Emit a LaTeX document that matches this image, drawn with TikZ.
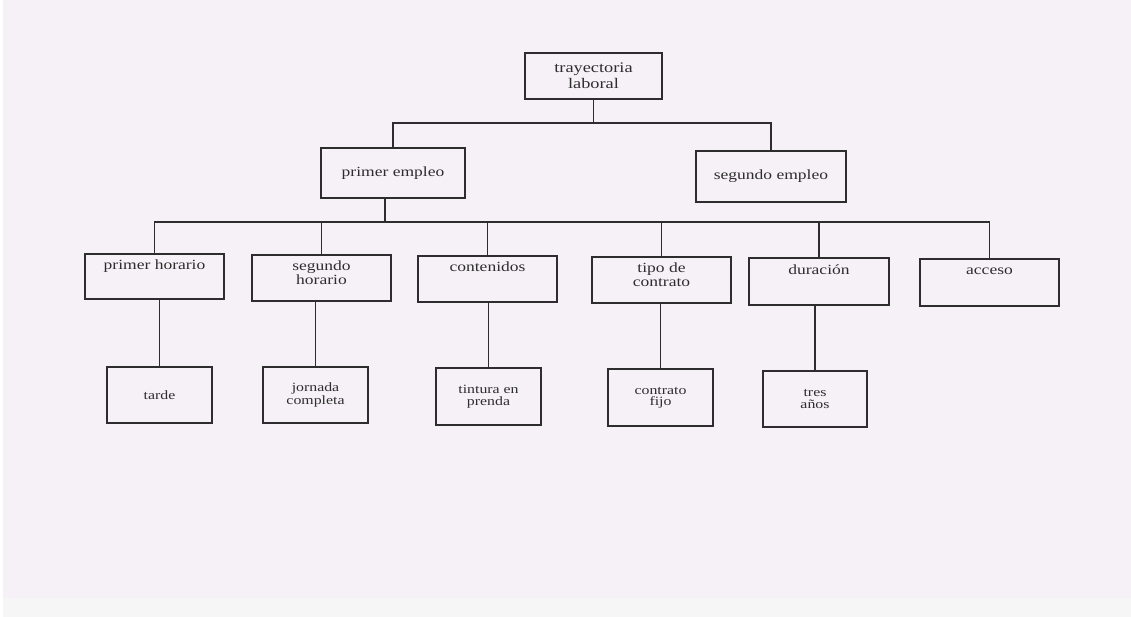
\documentclass[tikz,border=0pt]{standalone}
\usepackage{fontspec}
\setmainfont[FakeStretch=1.25]{Liberation Serif}
\usetikzlibrary{calc}
\definecolor{paper}{RGB}{245,241,246}
\definecolor{paperlow}{RGB}{246,246,246}
\definecolor{ink}{RGB}{45,45,45}
\tikzset{
  frame/.style={draw=ink, line width=1pt, inner sep=0pt, align=center, text=ink},
  topbox/.style={frame, font=\fontsize{11}{12}\selectfont},
  onebox/.style={frame, font=\fontsize{10.5}{10}\selectfont},
  twobox/.style={frame},
  twotext/.style={anchor=north, inner sep=0pt, align=center, text=ink,
    font=\fontsize{10.5}{10}\selectfont, execute at begin node={\vphantom{h}}},
  threebox/.style={frame, font=\fontsize{9.5}{8.5}\selectfont},
  link/.style={draw=ink, line width=1pt}
}
\begin{document}
\begin{tikzpicture}[x=0.75pt,y=-0.75pt]
\useasboundingbox (0,0) rectangle (1131,617);
\fill[paper] (0,0) rectangle (1131,598);
\fill[paperlow] (0,598) rectangle (1131,617);
\fill[white] (0,0) rectangle (3,617);

% top
\node[topbox, minimum width=102.75pt, minimum height=34.5pt] (tl) at (593.5,76) {trayectoria\\laboral};
% level 1
\node[onebox, minimum width=108pt, minimum height=37.5pt] (pe) at (393,173) {primer empleo};
\node[onebox, minimum width=112.5pt, minimum height=38.25pt] (se) at (771,176.5) {segundo empleo};
% level 2 boxes
\node[twobox, minimum width=104.25pt, minimum height=33.75pt] (ph) at (154.5,276.5) {};
\node[twobox, minimum width=104.25pt, minimum height=34.5pt] (sh) at (321.5,278) {};
\node[twobox, minimum width=104.25pt, minimum height=34.5pt] (co) at (487.5,279) {};
\node[twobox, minimum width=104.25pt, minimum height=34.5pt] (tc) at (661.5,280) {};
\node[twobox, minimum width=105pt, minimum height=35.25pt] (du) at (819,281.5) {};
\node[twobox, minimum width=104.25pt, minimum height=35.25pt] (ac) at (989.5,282.5) {};
% level 2 texts
\node[twotext] (pht) at ([yshift=-4.8pt]ph.north) {primer horario};
\node[twotext] (sht) at ([yshift=-4.8pt]sh.north) {segundo\\horario};
\node[twotext] (cot) at ([yshift=-4.8pt]co.north) {contenidos};
\node[twotext] (tct) at ([yshift=-4.8pt]tc.north) {tipo de\\contrato};
\node[twotext] (dut) at ([yshift=-5.2pt]du.north) {duración};
\node[twotext] (act) at ([yshift=-4.8pt]ac.north) {acceso};
% level 3
\node[threebox, minimum width=78.75pt, minimum height=42pt] (ta) at (159.5,395) {tarde};
\node[threebox, minimum width=78.75pt, minimum height=42pt] (jo) at (315.5,395) {jornada\\completa};
\node[threebox, minimum width=78.75pt, minimum height=42.75pt] (ti) at (488.5,396.5) {tintura en\\prenda};
\node[threebox, minimum width=78.75pt, minimum height=42.75pt] (cf) at (660.5,397.5) {contrato\\fijo};
\node[threebox, minimum width=78pt, minimum height=42pt] (tr) at (815,399) {tres\\años};

% junctions
\coordinate (j1) at (593.5,123);
\coordinate (j2) at (385,222);

% connectors top
\draw[link] (tl.south) -- (j1);
\draw[link] (pe.north) |- (j1) -| (se.north);
% connectors level 1 to level 2
\draw[link] (pe.south -| j2) -- (j2);
\draw[link] (ph.north) |- (j2) -| (ac.north);
\draw[link] (sh.north) -- (sh.north |- j2);
\draw[link] (co.north) -- (co.north |- j2);
\draw[link] (tc.north) -- (tc.north |- j2);
\draw[link] (du.north) -- (du.north |- j2);
% connectors level 2 to level 3
\draw[link] (ta.north) -- (ta.north |- ph.south);
\draw[link] (jo.north) -- (jo.north |- sh.south);
\draw[link] (ti.north) -- (ti.north |- co.south);
\draw[link] (cf.north) -- (cf.north |- tc.south);
\draw[link] (tr.north) -- (tr.north |- du.south);
\end{tikzpicture}
\end{document}
